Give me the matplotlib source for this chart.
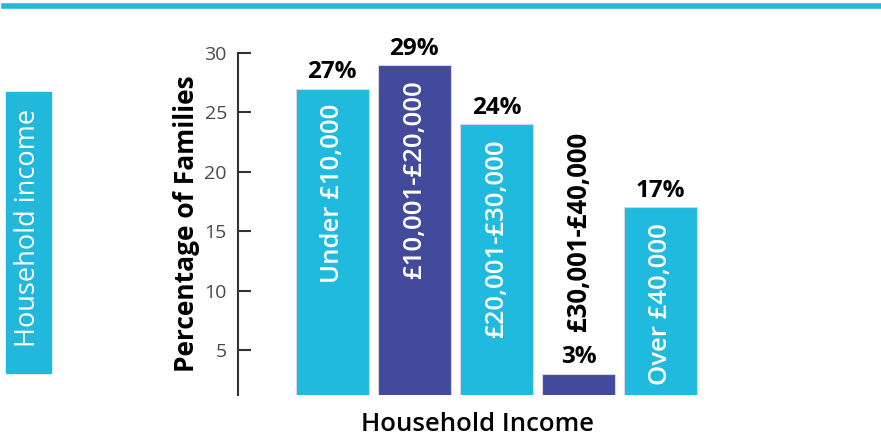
import matplotlib
matplotlib.use("Agg")
import matplotlib.pyplot as plt
from matplotlib.patches import Rectangle
from matplotlib.lines import Line2D

categories = ["Under £10,000", "£10,001-£20,000", "£20,001-£30,000",
              "£30,001-£40,000", "Over £40,000"]
values = [27, 29, 24, 3, 17]
yticks = [5, 10, 15, 20, 25, 30]

CYAN = "#1fbadd"
NAVY = "#434a9b"
colors = [CYAN, NAVY, CYAN, NAVY, CYAN]
FONT = "Open Sans"

fig = plt.figure(figsize=(8.81, 4.38), dpi=100)
ax = fig.add_axes([238 / 881, 43 / 438, (700 - 238) / 881, (395 - 53) / 438])

x = range(len(values))
ax.bar(x, values, width=0.89, color=colors, edgecolor="#d6d6e0", linewidth=0.8, bottom=0)
ax.set_xlim(-1.146, 4.48)
ax.set_ylim(1.2, 30)

for sp in ("top", "right", "bottom"):
    ax.spines[sp].set_visible(False)
ax.spines["left"].set_color("#333333")
ax.spines["left"].set_linewidth(1.5)
ax.set_xticks([])
ax.set_yticks(yticks)
ax.tick_params(axis="y", direction="in", length=9, width=1.5, color="#333333",
               labelsize=14, labelcolor="#4a4a4a", pad=8)
for t in ax.get_yticklabels():
    t.set_family("Open Sans")

# value labels above bars
for i, v in enumerate(values):
    ax.annotate(f"{v}%", (i, v), xytext=(0, 3), textcoords="offset points",
                ha="center", va="bottom", fontsize=17.5, fontweight="bold",
                family=FONT, color="black")

# category labels inside bars (or above the short one)
for i, (c, v) in enumerate(zip(categories, values)):
    if v > 10:
        ax.annotate(c, (i, v), xytext=(0, -11), textcoords="offset points",
                    ha="center", va="top", rotation=90, fontsize=18.5,
                    family=FONT, fontweight="semibold", color="white")
    else:
        ax.annotate(c, (i, v), xytext=(0, 31), textcoords="offset points",
                    ha="center", va="bottom", rotation=90, fontsize=18.5,
                    family=FONT, fontweight="bold", color="black")

ax.set_ylabel("Percentage of Families", fontsize=19, fontweight="bold",
              family=FONT, labelpad=3)
ax.set_xlabel("Household Income", fontsize=18.5, fontweight="semibold",
              family=FONT, labelpad=10)
ax.xaxis.set_label_coords((477 - 238) / 462, -0.05, transform=ax.transAxes)
ax.xaxis.label.set_va("top")

# decorations: top rule and side tab
fig.add_artist(Line2D([4 / 881, 1], [1 - 5.5 / 438] * 2, color="#22b8dc", lw=4,
                      transform=fig.transFigure))
fig.add_artist(Rectangle((6 / 881, 1 - 373 / 438), 45 / 881, 281 / 438,
                         color="#22b8dc", transform=fig.transFigure))
fig.text(28.5 / 881, 1 - 228 / 438, "Household income", rotation=90, ha="center",
         va="center", color="white", fontsize=19.5, family=FONT)

fig.savefig("out.png", dpi=100)
